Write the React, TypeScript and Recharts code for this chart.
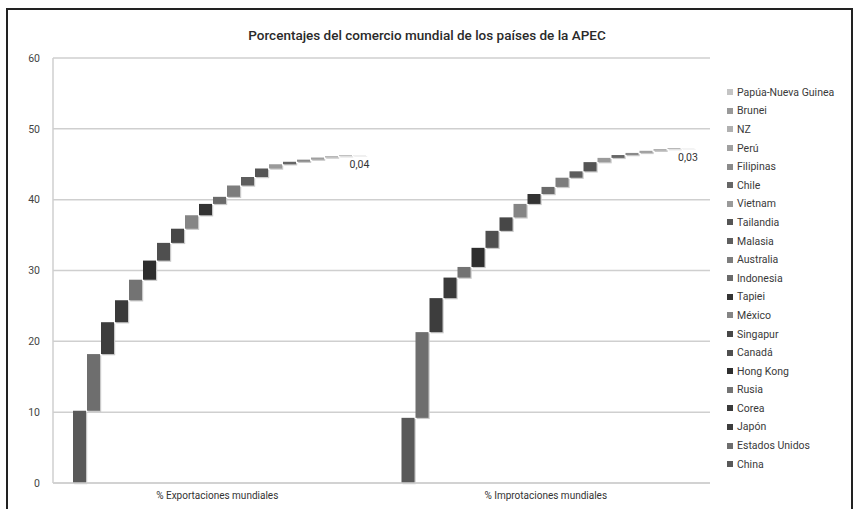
import React from "react";
import { BarChart, Bar, XAxis, YAxis, CartesianGrid, LabelList } from "recharts";

const categories = ["% Exportaciones mundiales", "% Improtaciones mundiales"];
const countries = [
  "China", "Estados Unidos", "Japón", "Corea", "Rusia", "Hong Kong", "Canadá", "Singapur",
  "México", "Tapiei", "Indonesia", "Australia", "Malasia", "Tailandia", "Vietnam", "Chile",
  "Filipinas", "Perú", "NZ", "Brunei", "Papúa-Nueva Guinea",
];
const exportsPct = [10.2, 8.0, 4.5, 3.1, 2.9, 2.7, 2.5, 2.0, 1.9, 1.6, 1.0, 1.6, 1.2, 1.2, 0.6, 0.35, 0.3, 0.3, 0.2, 0.1, 0.04];
const importsPct = [9.2, 12.1, 4.8, 2.9, 1.5, 2.7, 2.4, 1.9, 1.9, 1.4, 1.0, 1.3, 0.9, 1.3, 0.6, 0.4, 0.3, 0.3, 0.25, 0.1, 0.03];
const colors = [
  "#595959", "#6e6e6e", "#3d3d3d", "#3a3a3a", "#737373", "#2e2e2e", "#4f4f4f", "#474747",
  "#858585", "#333333", "#6a6a6a", "#7d7d7d", "#5e5e5e", "#555555", "#9a9a9a", "#666666",
  "#8a8a8a", "#a0a0a0", "#b0b0b0", "#999999", "#c4c4c4",
];
const yTicks = [0, 10, 20, 30, 40, 50, 60];
const endLabels = ["0,04", "0,03"];

const series = [exportsPct, importsPct];
const data = categories.map((name, ci) => {
  const row: any = { name };
  let acc = 0;
  countries.forEach((c, i) => {
    const v = series[ci][i];
    row["k" + i] = [acc, acc + v];
    acc += v;
  });
  return row;
});

const BevelBar = (props: any) => {
  const { x, y, width, height, fill } = props;
  if (width == null || height == null) return null;
  const h = Math.abs(height);
  const top = height < 0 ? y + height : y;
  return (
    <g>
      <rect x={x + 1.2} y={top + 1.2} width={width} height={h} fill="#c9c9c9" />
      <rect x={x} y={top} width={width} height={h} fill={fill} />
    </g>
  );
};

const EndLabel = (props: any) => {
  const { x, y, width, height, index } = props;
  const h = Math.abs(height);
  const top = height < 0 ? y + height : y;
  return (
    <text x={x + width / 2} y={top + h + 13} textAnchor="middle" fontSize={10.5} fill="#333" stroke="none" fontFamily="Roboto, sans-serif">
      {endLabels[index]}
    </text>
  );
};

export default function App() {
  return (
    <div style={{ position: "absolute", left: 0, top: 0, width: 854, height: 509, overflow: "hidden", background: "#fff" }}>
      <div style={{ position: "absolute", left: 6, top: 8, width: 843, height: 520, border: "2px solid #222" }} />
      <div
        style={{
          position: "absolute", left: 0, width: 854, top: 27, textAlign: "center",
          fontFamily: "Roboto, sans-serif", fontSize: 13.5, fontWeight: 500, color: "#2a2a2a",
        }}
      >
        Porcentajes del comercio mundial de los países de la APEC
      </div>
      <div style={{ position: "absolute", left: 0, top: 0 }}>
        <BarChart
          width={854}
          height={509}
          data={data}
          margin={{ top: 58, right: 144, bottom: 0, left: 0 }}
          barCategoryGap={20}
          barGap={1}
        >
          <CartesianGrid horizontal vertical={false} stroke="#cfcfcf" strokeWidth={1.5} />
          <XAxis
            dataKey="name"
            height={26}
            tickLine={false}
            axisLine={{ stroke: "#cfcfcf", strokeWidth: 1.5 }}
            tick={{ fontSize: 10, fill: "#333", fontFamily: "Roboto, sans-serif" }}
            tickMargin={3}
          />
          <YAxis
            width={53}
            domain={[0, 60]}
            ticks={yTicks}
            tickLine={false}
            axisLine={{ stroke: "#cfcfcf", strokeWidth: 1.5 }}
            tick={{ fontSize: 10.5, fill: "#444", fontFamily: "Roboto, sans-serif" }}
            tickMargin={7}
          />
          {countries.map((c, i) => (
            <Bar key={c} dataKey={"k" + i} name={c} fill={colors[i]} isAnimationActive={false} shape={BevelBar}>
              {i === countries.length - 1 ? <LabelList dataKey={"k" + i} content={EndLabel} /> : null}
            </Bar>
          ))}
        </BarChart>
      </div>
      <div style={{ position: "absolute", left: 727, top: 83, fontFamily: "Roboto, sans-serif", fontSize: 10.5, color: "#3a3a3a" }}>
        {countries
          .map((c, i) => ({ c, col: colors[i] }))
          .reverse()
          .map(({ c, col }) => (
            <div key={c} style={{ height: 18.6, display: "flex", alignItems: "center", whiteSpace: "nowrap" }}>
              <span style={{ display: "inline-block", width: 6, height: 6, background: col, marginRight: 4 }} />
              <span>{c}</span>
            </div>
          ))}
      </div>
    </div>
  );
}
